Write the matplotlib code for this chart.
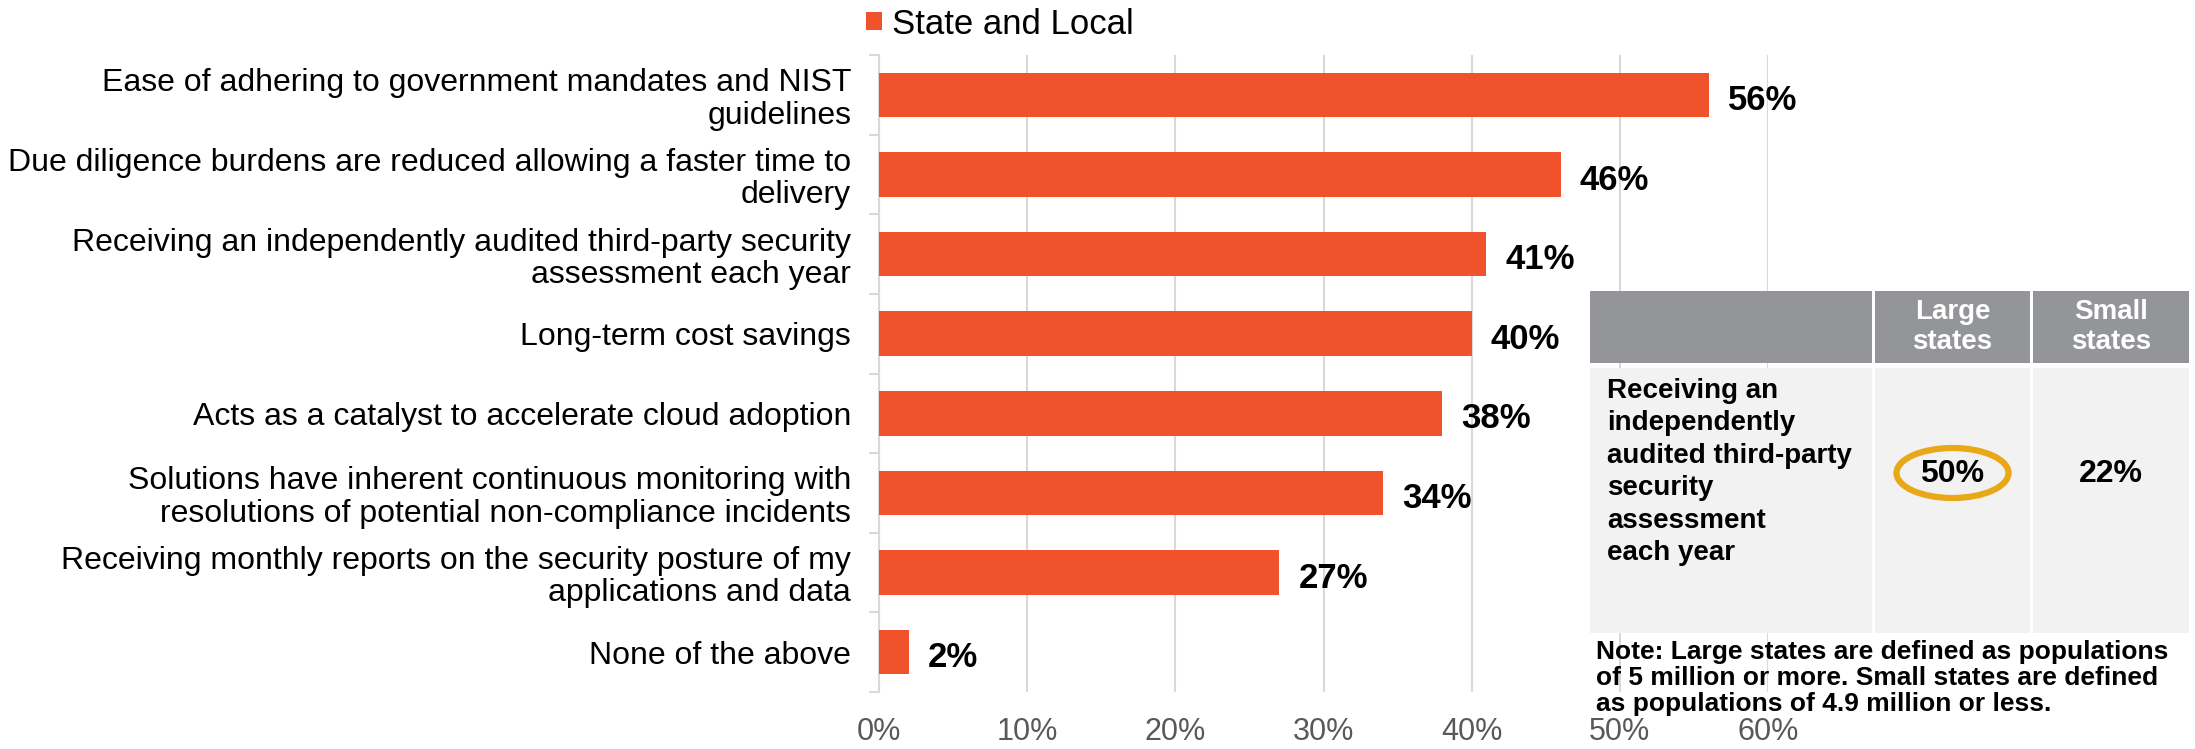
import matplotlib
matplotlib.use("Agg")
import matplotlib.pyplot as plt
from matplotlib.patches import Rectangle, Ellipse
import numpy as np

plt.rcParams['font.family'] = ['Liberation Sans', 'DejaVu Sans']

# data
categories = [
    "Ease of adhering to government mandates and NIST\nguidelines",
    "Due diligence burdens are reduced allowing a faster time to\ndelivery",
    "Receiving an independently audited third-party security\nassessment each year",
    "Long-term cost savings",
    "Acts as a catalyst to accelerate cloud adoption",
    "Solutions have inherent continuous monitoring with\nresolutions of potential non-compliance incidents",
    "Receiving monthly reports on the security posture of my\napplications and data",
    "None of the above",
]
values = [56, 46, 41, 40, 38, 34, 27, 2]
series_name = "State and Local"
xticks = [0, 10, 20, 30, 40, 50, 60]

table_header = ["", "Large\nstates", "Small\nstates"]
table_row_label = "Receiving an\nindependently\naudited third-party\nsecurity\nassessment\neach year"
table_values = ["50%", "22%"]
note_text = ("Note: Large states are defined as populations\n"
             "of 5 million or more. Small states are defined\n"
             "as populations of 4.9 million or less.")

BAR = "#F0522C"
W, H = 2195, 749

fig = plt.figure(figsize=(W / 100, H / 100), dpi=100)
ax = fig.add_axes([879 / W, 1 - 692 / H, (1768 - 879) / W, (692 - 55) / H])

y = np.arange(len(categories))
ax.barh(y, values, height=0.56, color=BAR, label=series_name, zorder=3)
ax.set_ylim(len(categories) - 0.5, -0.5)
ax.set_xlim(0, 60)

for yi, v in zip(y, values):
    ax.text(v + 1.3, yi + 0.07, f"{v}%", va='center', ha='left',
            fontsize=25, fontweight='bold', color='black')

ax.set_xticks(xticks)
ax.set_xticklabels([f"{t}%" for t in xticks], fontsize=22, color='#595959')
ax.tick_params(axis='x', length=0, pad=18)
ax.set_yticks(y)
ax.set_yticklabels(categories, fontsize=23, color='black', linespacing=1.1)
ax.tick_params(axis='y', length=0, pad=20)
# category separators on the y axis
ax.set_yticks(np.arange(-0.5, len(categories), 1), minor=True)
ax.tick_params(axis='y', which='minor', length=7, color='#D9D9D9', width=1.5)

ax.grid(axis='x', color='#D9D9D9', linewidth=1.5, zorder=0)
for s in ['top', 'right', 'bottom']:
    ax.spines[s].set_visible(False)
ax.spines['left'].set_color('#D9D9D9')
ax.spines['left'].set_linewidth(1.5)

leg = fig.legend(loc='center', bbox_to_anchor=(1000 / W, 1 - 24 / H), frameon=False,
                 fontsize=25, handlelength=0.45, handleheight=0.45, handletextpad=0.3)

# inset table drawn in pixel coordinates
ov = fig.add_axes([0, 0, 1, 1], zorder=5)
ov.set_xlim(0, W)
ov.set_ylim(H, 0)
ov.axis('off')

cols = [1590, 1872, 2030, 2189]
gap = 3
head_top, head_bot = 291, 363
body_top, body_bot = 368, 633
for i in range(3):
    x0, x1 = cols[i] + (gap if i else 0), cols[i + 1]
    ov.add_patch(Rectangle((x0, head_top), x1 - x0, head_bot - head_top,
                           facecolor='#939598', edgecolor='none'))
    ov.add_patch(Rectangle((x0, body_top), x1 - x0, body_bot - body_top,
                           facecolor='#F2F2F2', edgecolor='none'))
    if table_header[i]:
        ov.text((x0 + x1) / 2, (head_top + head_bot) / 2, table_header[i],
                ha='center', va='center', color='white', fontsize=20,
                fontweight='bold', linespacing=1.2)

ov.text(1607, 472, table_row_label, ha='left', va='center',
        fontsize=20, fontweight='bold', linespacing=1.32)
for i, val in enumerate(table_values):
    cx = (cols[i + 1] + gap + cols[i + 2]) / 2
    ov.text(cx, 474, val, ha='center', va='center', fontsize=23, fontweight='bold')
ov.add_patch(Ellipse(((cols[1] + gap + cols[2]) / 2, 473), 112, 50,
                     facecolor='none', edgecolor='#E8A817', linewidth=4.5))

ov.text(1596, 678, note_text, ha='left', va='center', fontsize=19,
        fontweight='bold', linespacing=1.12)

fig.savefig("out.png", dpi=100)
